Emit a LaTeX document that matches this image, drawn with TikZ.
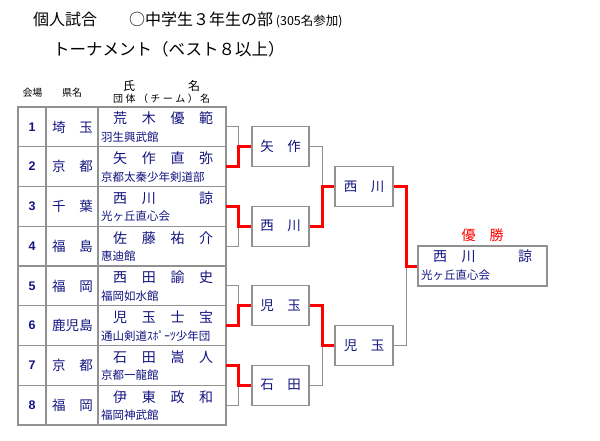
\documentclass[tikz,border=0pt]{standalone}
\usepackage{fontspec}
\setmainfont{Noto Sans CJK JP}
\newfontfamily\numfont{Liberation Sans}
\usetikzlibrary{positioning}
\definecolor{ink}{RGB}{20,20,128}
\definecolor{winred}{RGB}{255,0,0}
\definecolor{rule}{RGB}{145,145,145}
\newcommand{\spread}[2]{\hbox to #1{#2}}

\begin{document}
\begin{tikzpicture}[x=1pt, y=-1pt,
	  num/.style={font=\numfont\bfseries\fontsize{12.5}{13}\selectfont, text=ink, inner sep=0pt},
	  pref/.style={font=\fontsize{13.5}{14}\selectfont, text=ink, inner sep=0pt},
	  pname/.style={font=\fontsize{14}{14}\selectfont, text=ink, inner sep=0pt, anchor=west},
	  team/.style={font=\fontsize{11.5}{12}\selectfont, text=ink, inner sep=0pt, anchor=west},
	  head/.style={font=\fontsize{10}{10}\selectfont, inner sep=0pt},
	  grid/.style={draw=rule, line width=1.3pt},
	  box/.style={draw=rule, line width=1.2pt, minimum width=57pt, minimum height=40pt, inner sep=0pt, text=ink, font=\fontsize{13.5}{14}\selectfont},
	  lose/.style={draw=rule, line width=1pt},
	  win/.style={draw=winred, line width=3pt},
	]
	\useasboundingbox (0,0) rectangle (600,440);
	
	% Title
	\node[anchor=west, inner sep=0pt, font=\fontsize{16}{16}\selectfont] (title) at (33,20)
	  {個人試合　　○中学生３年生の部\,{\fontsize{12.5}{12.5}\selectfont(305名参加)}};
	\node[anchor=west, inner sep=0pt, font=\fontsize{16.5}{16.5}\selectfont] (subtitle) at (53,49)
	  {トーナメント（ベスト８以上）};
	
	% Header
	\node[head] (hvenue) at (32.5,93) {会場};
	\node[head] (hpref) at (72,93) {県名};
	\node[head, anchor=west, font=\fontsize{12}{12}\selectfont] (hname) at (123,86) {\spread{77pt}{氏\hfill 名}};
	\node[head, anchor=west] (hteam) at (113,99)
	  {\spread{97pt}{団\hfill 体\hfill （\hfill チ\hfill ー\hfill ム\hfill ）\hfill 名}};
	
	% Table
	\draw[grid] (18,107) rectangle (226,425);
	\draw[grid] (46,107) -- (46,425) (98,107) -- (98,425);
	\draw[grid] (18,146.75) -- (226,146.75) (18,186.5) -- (226,186.5)
	  (18,226.25) -- (226,226.25) (18,266) -- (226,266)
	  (18,305.75) -- (226,305.75) (18,345.5) -- (226,345.5)
	  (18,385.25) -- (226,385.25);
	
	% Row 1
	\node[num] (n1) at (32,126.9) {1};
	\node[pref] (k1) at (72.5,126.9) {\spread{41pt}{埼\hfill 玉}};
	\node[pname] (m1) at (113,118.5) {\spread{100pt}{荒\hfill 木\hfill 優\hfill 範}};
	\node[team] (t1) at (101,137) {羽生興武館};
	% Row 2
	\node[num] (n2) at (32,166.6) {2};
	\node[pref] (k2) at (72.5,166.6) {\spread{41pt}{京\hfill 都}};
	\node[pname] (m2) at (113,158.25) {\spread{100pt}{矢\hfill 作\hfill 直\hfill 弥}};
	\node[team] (t2) at (101,176.75) {京都太秦少年剣道部};
	% Row 3
	\node[num] (n3) at (32,206.4) {3};
	\node[pref] (k3) at (72.5,206.4) {\spread{41pt}{千\hfill 葉}};
	\node[pname] (m3) at (113,198) {\spread{100pt}{西\hfill 川\hfill 　\hfill 諒}};
	\node[team] (t3) at (101,216.5) {光ヶ丘直心会};
	% Row 4
	\node[num] (n4) at (32,246.1) {4};
	\node[pref] (k4) at (72.5,246.1) {\spread{41pt}{福\hfill 島}};
	\node[pname] (m4) at (113,237.75) {\spread{100pt}{佐\hfill 藤\hfill 祐\hfill 介}};
	\node[team] (t4) at (101,256.25) {惠迪館};
	% Row 5
	\node[num] (n5) at (32,285.9) {5};
	\node[pref] (k5) at (72.5,285.9) {\spread{41pt}{福\hfill 岡}};
	\node[pname] (m5) at (113,277.5) {\spread{100pt}{西\hfill 田\hfill 諭\hfill 史}};
	\node[team] (t5) at (101,296) {福岡如水館};
	% Row 6
	\node[num] (n6) at (32,325.6) {6};
	\node[pref] (k6) at (72.5,325.6) {\spread{41pt}{鹿\hfill 児\hfill 島}};
	\node[pname] (m6) at (113,317.25) {\spread{100pt}{児\hfill 玉\hfill 士\hfill 宝}};
	\node[team] (t6) at (101,335.75) {通山剣道ｽﾎﾟｰﾂ少年団};
	% Row 7
	\node[num] (n7) at (32,365.4) {7};
	\node[pref] (k7) at (72.5,365.4) {\spread{41pt}{京\hfill 都}};
	\node[pname] (m7) at (113,357) {\spread{100pt}{石\hfill 田\hfill 嵩\hfill 人}};
	\node[team] (t7) at (101,375.5) {京都一龍館};
	% Row 8
	\node[num] (n8) at (32,405.1) {8};
	\node[pref] (k8) at (72.5,405.1) {\spread{41pt}{福\hfill 岡}};
	\node[pname] (m8) at (113,396.75) {\spread{100pt}{伊\hfill 東\hfill 政\hfill 和}};
	\node[team] (t8) at (101,415.25) {福岡神武館};
	
	% Row ends
	\coordinate (p1) at (226,126.9);
	\coordinate (p2) at (226,166.6);
	\coordinate (p3) at (226,206.4);
	\coordinate (p4) at (226,246.1);
	\coordinate (p5) at (226,285.9);
	\coordinate (p6) at (226,325.6);
	\coordinate (p7) at (226,365.4);
	\coordinate (p8) at (226,405.1);
	
	% Quarter finals
	\node[box] (qf1) at (280.5,146.75) {矢　作};
	\node[box] (qf2) at (280.5,226.25) {西　川};
	\node[box] (qf3) at (280.5,305.75) {児　玉};
	\node[box] (qf4) at (280.5,385.25) {石　田};
	
	% Semi finals
	\node[box, minimum width=58pt] (sf1) at (364,186.5) {西　川};
	\node[box, minimum width=58pt] (sf2) at (364,345.5) {児　玉};
	
	% Champion
	\node[box, minimum width=129pt] (champ) at (482.5,266) {};
	\node[anchor=west, inner sep=0pt, text=ink, font=\fontsize{14}{14}\selectfont] (cname) at (433,256)
	  {\spread{99pt}{西\hfill 川\hfill 　\hfill 諒}};
	\node[team] (cteam) at (421,275.5) {光ヶ丘直心会};
	\node[inner sep=0pt, text=winred, font=\fontsize{14}{14}\selectfont, above=4pt of champ] (prize) {優　勝};
	
	% Brackets (losers first)
	\draw[lose] (p1) -- ++(12,0) |- (qf1.west);
	\draw[lose] (p4) -- ++(12,0) |- (qf2.west);
	\draw[lose] (p5) -- ++(12,0) |- (qf3.west);
	\draw[lose] (p8) -- ++(12,0) |- (qf4.west);
	\draw[lose] (qf1.east) -- ++(13,0) |- (sf1.west);
	\draw[lose] (qf4.east) -- ++(13,0) |- (sf2.west);
	\draw[lose] (sf2.east) -- ++(13,0) |- (champ.west);
	
	% Winners
	\draw[win] (p2) -- ++(12,0) |- (qf1.west);
	\draw[win] (p3) -- ++(12,0) |- (qf2.west);
	\draw[win] (p6) -- ++(12,0) |- (qf3.west);
	\draw[win] (p7) -- ++(12,0) |- (qf4.west);
	\draw[win] (qf2.east) -- ++(13,0) |- (sf1.west);
	\draw[win] (qf3.east) -- ++(13,0) |- (sf2.west);
	\draw[win] (sf1.east) -- ++(13,0) |- (champ.west);
	
	\end{tikzpicture}
\end{document}
